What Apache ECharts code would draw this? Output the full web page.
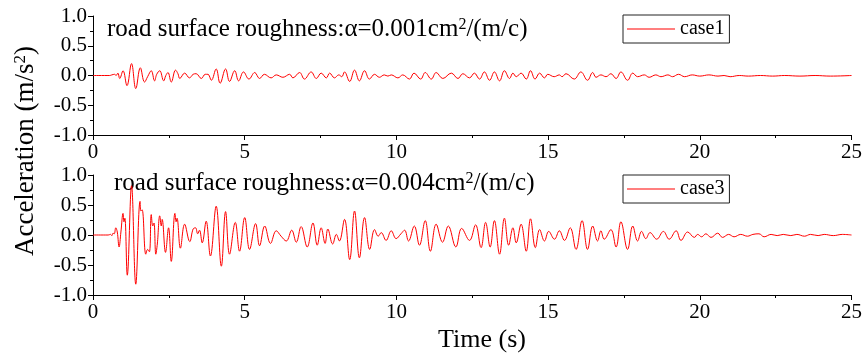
<!DOCTYPE html>
<html>
<head>
<meta charset="utf-8">
<script src="https://cdn.jsdelivr.net/npm/echarts@6/dist/echarts.min.js"></script>
<style>
  html, body { margin: 0; padding: 0; background: #fff; }
  #main { width: 865px; height: 362px; }
</style>
</head>
<body>
<div id="main"></div>
<script>
// 数据：时间 (s) 与加速度 (m/s2)
// case1, α=0.001
var t1 = [0, 0.55, 0.62, 0.71, 0.76, 0.82, 0.88, 0.99, 1.12, 1.27, 1.41, 1.56, 1.70, 1.80, 1.92, 2.03, 2.10, 2.20, 2.33, 2.40,
  2.47, 2.58, 2.72, 2.80, 2.86, 3.02, 3.18, 3.30, 3.40, 3.57, 3.70, 3.79, 3.90, 4.06, 4.19, 4.37, 4.50, 4.67, 4.80, 4.96,
  5.14, 5.33, 5.49, 5.65, 5.87, 6.04, 6.26, 6.48, 6.59, 6.81, 6.97, 7.19, 7.36, 7.52, 7.69, 7.80, 7.96, 8.10, 8.20, 8.29,
  8.46, 8.62, 8.78, 8.95, 9.11, 9.28, 9.44, 9.60, 9.72, 9.83, 10.05, 10.21, 10.43, 10.58, 10.80, 10.95, 11.15, 11.31, 11.53, 11.81,
  12.03, 12.19, 12.41, 12.57, 12.74, 12.90, 13.07, 13.23, 13.40, 13.56, 13.73, 13.84, 13.95, 14.11, 14.28, 14.42, 14.57, 14.72, 14.88, 14.99,
  15.20, 15.37, 15.46, 15.59, 15.86, 16.08, 16.30, 16.47, 16.58, 16.74, 16.91, 17.07, 17.24, 17.40, 17.62, 17.79, 17.95, 18.17, 18.33, 18.55,
  18.72, 18.95, 19.10, 19.30, 19.50, 19.75, 20.00, 20.30, 20.60, 20.80, 21.00, 21.30, 21.60, 22.00, 22.40, 22.80, 23.30, 23.80, 24.30, 25.00];
var a1 = [0, 0, 0.01, 0.02, 0.00, 0.04, -0.05, 0.08, -0.17, 0.20, -0.22, 0.13, -0.11, -0.02, 0.08, -0.09, 0.02, 0.08, -0.09, 0.00,
  0.05, -0.11, 0.09, 0.03, -0.05, 0.04, -0.04, 0.02, 0.03, -0.05, 0.02, 0.02, -0.08, 0.11, -0.13, 0.11, -0.10, 0.08, -0.09, 0.06,
  -0.06, 0.05, -0.05, 0.02, -0.04, 0.01, -0.03, 0.02, -0.04, 0.05, -0.06, 0.06, -0.05, 0.04, -0.04, 0.04, -0.04, 0.01, -0.02, 0.06,
  -0.10, 0.09, -0.09, 0.08, -0.06, 0.02, -0.03, 0.01, -0.01, 0.01, -0.04, 0.01, -0.06, 0.04, -0.06, 0.05, -0.06, 0.05, -0.05, 0.04,
  -0.05, 0.03, -0.04, 0.04, -0.06, 0.06, -0.08, 0.06, -0.09, 0.08, -0.05, 0.04, -0.02, 0.04, -0.06, 0.08, -0.06, 0.04, -0.04, 0.02,
  -0.02, 0.01, -0.02, 0.03, -0.06, 0.06, -0.08, 0.05, -0.03, 0.01, -0.02, 0.03, -0.05, 0.06, -0.08, 0.04, -0.02, 0.01, -0.03, 0.01,
  -0.02, 0.01, -0.02, 0.02, -0.02, 0.01, -0.01, 0.01, -0.01, 0.00, -0.02, 0.00, -0.01, 0.00, -0.01, 0.00, -0.01, 0.00, -0.01, 0.00];

// case3, α=0.004
var t3 = [0, 0.50, 0.58, 0.62, 0.66, 0.70, 0.75, 0.80, 0.86, 0.92, 0.99, 1.02, 1.05, 1.13, 1.27, 1.41, 1.55, 1.58, 1.62, 1.74,
  1.80, 1.86, 1.92, 1.97, 2.01, 2.07, 2.12, 2.20, 2.25, 2.28, 2.39, 2.49, 2.58, 2.70, 2.74, 2.77, 2.88, 3.02, 3.19, 3.30,
  3.38, 3.45, 3.51, 3.60, 3.73, 3.87, 4.06, 4.23, 4.37, 4.50, 4.69, 4.83, 5.00, 5.16, 5.36, 5.49, 5.66, 5.85, 6.04, 6.20,
  6.37, 6.55, 6.70, 6.86, 7.06, 7.25, 7.39, 7.52, 7.65, 7.74, 7.90, 8.02, 8.12, 8.29, 8.46, 8.62, 8.78, 8.95, 9.12, 9.28,
  9.40, 9.50, 9.66, 9.83, 9.99, 10.15, 10.27, 10.40, 10.59, 10.76, 10.95, 11.12, 11.31, 11.52, 11.71, 11.96, 12.15, 12.41, 12.61, 12.79,
  12.94, 13.09, 13.23, 13.40, 13.56, 13.70, 13.84, 13.95, 14.11, 14.28, 14.42, 14.58, 14.72, 14.88, 15.02, 15.21, 15.37, 15.54, 15.73, 15.92,
  16.12, 16.30, 16.47, 16.63, 16.74, 16.85, 17.07, 17.24, 17.40, 17.62, 17.79, 17.95, 18.08, 18.22, 18.36, 18.58, 18.80, 18.99, 19.22, 19.38,
  19.60, 19.82, 19.93, 20.06, 20.20, 20.37, 20.59, 20.75, 20.95, 21.13, 21.35, 21.57, 21.75, 21.95, 22.12, 22.35, 22.55, 22.75, 23.00, 23.20,
  23.45, 23.65, 23.90, 24.10, 24.40, 24.70, 25.00];
var a3 = [0, 0, 0.01, -0.01, 0.03, 0.02, 0.12, 0.05, -0.20, 0.05, 0.36, 0.22, 0.28, -0.67, 0.82, -0.82, 0.56, 0.40, 0.42, -0.32,
  -0.24, -0.28, 0.34, 0.15, 0.20, -0.32, -0.15, 0.32, 0.15, 0.26, -0.29, 0.12, -0.44, 0.36, 0.22, 0.28, -0.22, 0.18, -0.11, 0.10,
  0.12, 0.02, 0.08, -0.13, 0.23, -0.35, 0.48, -0.52, 0.39, -0.32, 0.21, -0.27, 0.29, -0.24, 0.19, -0.18, 0.15, -0.14, 0.07, -0.02,
  -0.10, 0.08, -0.12, 0.14, -0.20, 0.20, -0.17, 0.12, -0.14, 0.10, -0.15, 0.01, -0.10, 0.26, -0.41, 0.40, -0.38, 0.29, -0.24, 0.09,
  -0.02, 0.04, -0.09, 0.07, -0.06, 0.02, 0.08, -0.10, 0.15, -0.17, 0.24, -0.27, 0.18, -0.12, 0.15, -0.20, 0.11, -0.09, 0.17, -0.21,
  0.21, -0.20, 0.24, -0.32, 0.28, -0.17, 0.12, -0.13, 0.18, -0.27, 0.27, -0.21, 0.09, -0.10, 0.06, -0.07, 0.07, -0.09, 0.12, -0.24,
  0.24, -0.24, 0.15, -0.10, 0.07, -0.07, 0.09, -0.20, 0.22, -0.24, 0.15, -0.10, 0.06, -0.06, 0.04, -0.07, 0.06, -0.07, 0.07, -0.09,
  0.05, -0.04, 0.01, -0.03, 0.02, -0.04, 0.03, -0.04, 0.01, -0.03, 0.01, -0.02, 0.01, 0.02, -0.03, 0.01, -0.01, 0.01, -0.01, 0.01,
  -0.02, 0.01, -0.01, 0.01, -0.01, 0.01, 0.00];

var xTicks = [0, 5, 10, 15, 20, 25];
var yTicks = [-1.0, -0.5, 0.0, 0.5, 1.0];
var names = ['case1', 'case3'];
// {s|2} 为上标
var notes = ['road surface roughness:α=0.001cm{s|2}/(m/c)', 'road surface roughness:α=0.004cm{s|2}/(m/c)'];

var FONT = '"Liberation Serif", "Times New Roman", serif';

function pairs(t, a) {
  return t.map(function (v, i) { return [v, a[i]]; });
}

// X轴
function makeX(idx) {
  return {
    type: 'value',
    gridIndex: idx,
    min: xTicks[0],
    max: xTicks[xTicks.length - 1],
    interval: xTicks[1] - xTicks[0],
    axisLine: { show: true, onZero: false, lineStyle: { color: '#000', width: 1 } },
    axisTick: { show: true, length: 5, lineStyle: { color: '#000' } },
    minorTick: { show: true, splitNumber: 2, length: 3, lineStyle: { color: '#000' } },
    splitLine: { show: false },
    axisLabel: { fontFamily: FONT, fontSize: 21, color: '#000', margin: 7 }
  };
}

// Y轴
function makeY(idx) {
  return {
    type: 'value',
    gridIndex: idx,
    min: yTicks[0],
    max: yTicks[yTicks.length - 1],
    interval: yTicks[1] - yTicks[0],
    axisLine: { show: true, lineStyle: { color: '#000', width: 1 } },
    axisTick: { show: true, length: 5, lineStyle: { color: '#000' } },
    minorTick: { show: true, splitNumber: 2, length: 3, lineStyle: { color: '#000' } },
    splitLine: { show: false },
    axisLabel: {
      fontFamily: FONT, fontSize: 21, color: '#000', margin: 6,
      formatter: function (v) { return v.toFixed(1); }
    }
  };
}

// 图例：细线图标，外框
function makeLegend(name, top) {
  return {
    data: [name],
    left: 623,
    top: top,
    borderColor: '#222',
    borderWidth: 1,
    padding: [4, 5, 4, 4],
    icon: 'rect',
    itemWidth: 48,
    itemHeight: 1,
    itemStyle: { color: '#ff0000' },
    textStyle: { fontFamily: FONT, fontSize: 20, color: '#000' }
  };
}

function makeSeries(name, idx, t, a) {
  return {
    name: name,
    type: 'line',
    xAxisIndex: idx,
    yAxisIndex: idx,
    symbol: 'none',
    smooth: 0.4,
    lineStyle: { color: '#ff0000', width: 1 },
    itemStyle: { color: '#ff0000' },
    data: pairs(t, a)
  };
}

function note(text, x, y, size, rot) {
  return {
    type: 'text', x: x, y: y, rotation: rot || 0,
    style: {
      text: text,
      fontFamily: FONT, fontSize: size, fill: '#000',
      align: rot ? 'center' : (x > 300 ? 'center' : 'left'),
      verticalAlign: 'middle',
      rich: {
        s: { fontFamily: FONT, fontSize: Math.round(size * 0.62), fill: '#000', verticalAlign: 'top', lineHeight: size }
      }
    }
  };
}

var myChart = echarts.init(document.getElementById('main'));
var option = {
  animation: false,
  backgroundColor: '#fff',
  grid: [
    { left: 93, top: 16, width: 759, height: 119 },
    { left: 93, top: 175, width: 759, height: 120 }
  ],
  xAxis: [makeX(0), makeX(1)],
  yAxis: [makeY(0), makeY(1)],
  legend: [makeLegend(names[0], 15), makeLegend(names[1], 175)],
  series: [
    makeSeries(names[0], 0, t1, a1),
    makeSeries(names[1], 1, t3, a3)
  ],
  graphic: [
    note(notes[0], 107, 29, 25),
    note(notes[1], 114, 183, 25),
    note('Time (s)', 482, 340, 26),
    note('Acceleration (m/s{s|2})', 26, 151, 27, Math.PI / 2)
  ]
};
myChart.setOption(option);
</script>
</body>
</html>
